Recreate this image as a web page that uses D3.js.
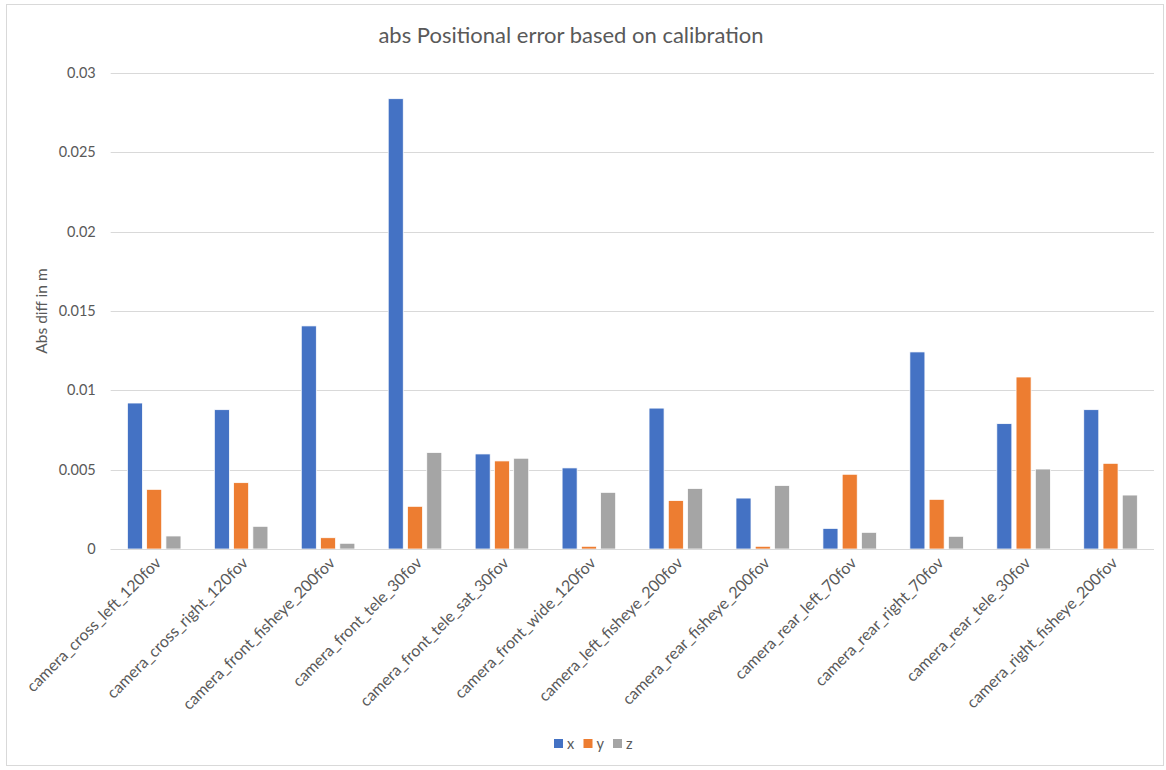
<!DOCTYPE html>
<html>
<head>
<meta charset="utf-8">
<script src="https://cdn.jsdelivr.net/npm/d3@7"></script>
<style>
  html, body { margin: 0; padding: 0; background: #fff; }
  svg { display: block; font-family: Lato, "Open Sans", sans-serif; }
</style>
</head>
<body>
<svg id="chart" width="1166" height="770"></svg>
<script>
// Camera names (category axis)
const cameras = [
  "camera_cross_left_120fov",
  "camera_cross_right_120fov",
  "camera_front_fisheye_200fov",
  "camera_front_tele_30fov",
  "camera_front_tele_sat_30fov",
  "camera_front_wide_120fov",
  "camera_left_fisheye_200fov",
  "camera_rear_fisheye_200fov",
  "camera_rear_left_70fov",
  "camera_rear_right_70fov",
  "camera_rear_tele_30fov",
  "camera_right_fisheye_200fov"
];

// Absolute positional error per axis, in metres
const xErr = [0.0092, 0.00878, 0.01406, 0.02838, 0.00599, 0.00511, 0.00888, 0.00321, 0.00130, 0.01242, 0.00790, 0.00878];
const yErr = [0.00376, 0.00418, 0.00071, 0.00269, 0.00555, 0.00017, 0.00305, 0.00017, 0.00471, 0.00313, 0.01084, 0.00540];
const zErr = [0.00082, 0.00143, 0.00036, 0.00608, 0.00572, 0.00357, 0.00381, 0.00400, 0.00105, 0.00080, 0.00504, 0.00340];

const seriesNames = ["x", "y", "z"];
const seriesColors = ["#4472C4", "#ED7D31", "#A5A5A5"];
const yTicks = [0, 0.005, 0.01, 0.015, 0.02, 0.025, 0.03];

const seriesValues = [xErr, yErr, zErr];
const rows = cameras.map((name, i) => ({
  name,
  values: seriesNames.map((s, k) => ({ key: s, value: seriesValues[k][i] }))
}));

const svg = d3.select("#chart");
const plot = { left: 110.7, right: 1154, top: 73, bottom: 549 };

// Chart area border
svg.append("rect")
  .attr("x", 6.5).attr("y", 4.5)
  .attr("width", 1157).attr("height", 761)
  .attr("fill", "#fff")
  .attr("stroke", "#d9d9d9").attr("stroke-width", 1);

const x0 = d3.scaleBand()
  .domain(cameras)
  .range([plot.left, plot.right])
  .paddingInner(0.384)
  .paddingOuter(0.192);

const x1 = d3.scaleBand()
  .domain(seriesNames)
  .range([0, x0.bandwidth()])
  .paddingInner(0.22);

const y = d3.scaleLinear()
  .domain([0, 0.03])
  .range([plot.bottom, plot.top]);

const color = d3.scaleOrdinal().domain(seriesNames).range(seriesColors);

// Horizontal gridlines
svg.append("g")
  .selectAll("line")
  .data(yTicks)
  .join("line")
  .attr("x1", plot.left).attr("x2", plot.right)
  .attr("y1", d => Math.round(y(d)) + 0.5)
  .attr("y2", d => Math.round(y(d)) + 0.5)
  .attr("stroke", "#d9d9d9")
  .attr("stroke-width", 1);

// Y axis tick labels
const yAxis = d3.axisLeft(y)
  .tickValues(yTicks)
  .tickFormat(d => d === 0 ? "0" : String(+d.toFixed(3)))
  .tickSize(0)
  .tickPadding(15);

const yg = svg.append("g")
  .attr("transform", `translate(${plot.left},0)`)
  .call(yAxis);
yg.select(".domain").remove();
yg.selectAll("text")
  .attr("fill", "#595959")
  .style("font-size", "14.5px")
  .style("font-family", "Lato, sans-serif");

// Bars
const groups = svg.append("g")
  .selectAll("g")
  .data(rows)
  .join("g")
  .attr("transform", d => `translate(${x0(d.name)},0)`);

groups.selectAll("rect")
  .data(d => d.values)
  .join("rect")
  .attr("x", d => x1(d.key))
  .attr("y", d => y(d.value))
  .attr("width", x1.bandwidth())
  .attr("height", d => y(0) - y(d.value))
  .attr("fill", d => color(d.key))
  .attr("stroke", "#fff")
  .attr("stroke-width", 0.75);

// Category axis line
svg.append("line")
  .attr("x1", plot.left).attr("x2", plot.right)
  .attr("y1", Math.round(y(0)) + 0.5).attr("y2", Math.round(y(0)) + 0.5)
  .attr("stroke", "#d9d9d9").attr("stroke-width", 1);

// Category labels, rotated
const xAxis = d3.axisBottom(x0).tickSize(0).tickPadding(0);
const xg = svg.append("g")
  .attr("transform", `translate(0,${plot.bottom})`)
  .call(xAxis);
xg.select(".domain").remove();
xg.selectAll(".tick text")
  .attr("fill", "#595959")
  .style("font-size", "16px")
  .style("font-family", "Lato, sans-serif")
  .attr("text-anchor", "end")
  .attr("dy", null)
  .attr("y", 0)
  .attr("transform", "translate(8,15) rotate(-45)");

// Title
svg.append("text")
  .attr("x", 571).attr("y", 43)
  .attr("text-anchor", "middle")
  .attr("fill", "#595959")
  .style("font-size", "22px")
  .style("font-family", "Lato, sans-serif")
  .text("abs Positional error based on calibration");

// Y axis title
svg.append("text")
  .attr("transform", `translate(47,${(plot.top + plot.bottom) / 2}) rotate(-90)`)
  .attr("text-anchor", "middle")
  .attr("fill", "#595959")
  .style("font-size", "15.5px")
  .style("font-family", "Lato, sans-serif")
  .text("Abs diff in m");

// Legend
const legend = svg.append("g").attr("transform", "translate(554,739)");
const li = legend.selectAll("g")
  .data(seriesNames)
  .join("g")
  .attr("transform", (d, i) => `translate(${i * 29.5},0)`);
li.append("rect")
  .attr("width", 9).attr("height", 9)
  .attr("fill", d => color(d));
li.append("text")
  .attr("x", 13).attr("y", 9.5)
  .attr("fill", "#595959")
  .style("font-size", "14.5px")
  .style("font-family", "Lato, sans-serif")
  .text(d => d);
</script>
</body>
</html>
